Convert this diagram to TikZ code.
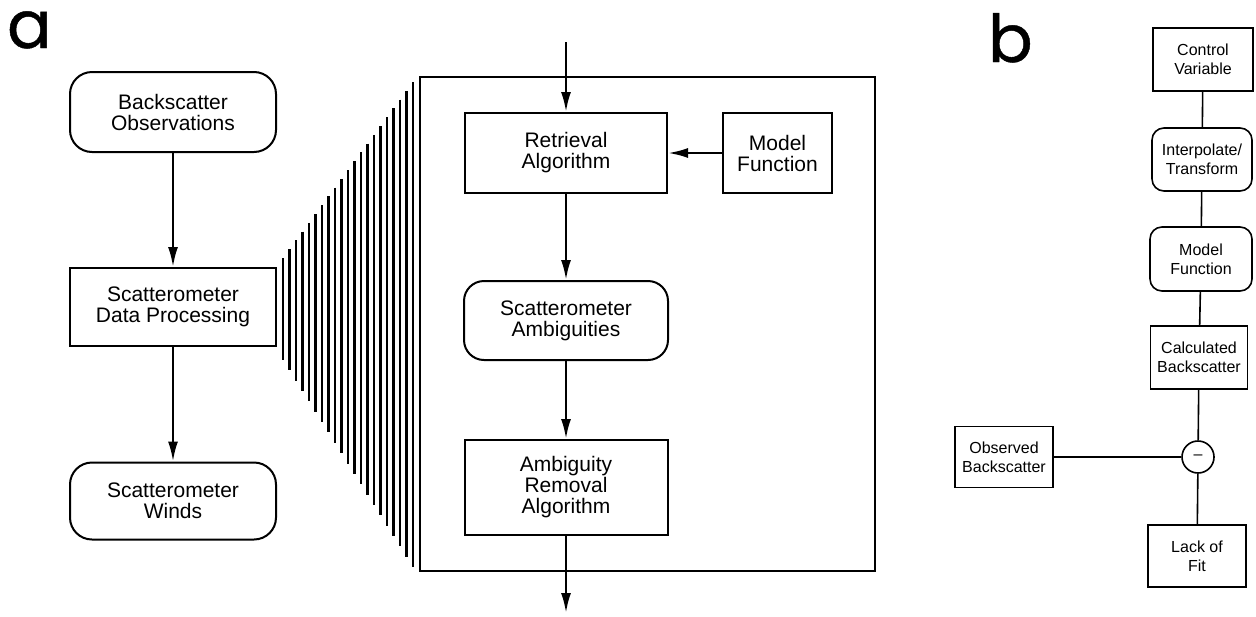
\documentclass[tikz,border=0pt]{standalone}
\usepackage{fontspec}
\setmainfont{Liberation Sans}
\newfontfamily\tagfont{Poppins}[FakeBold=0.7]
\usetikzlibrary{positioning,arrows.meta}

\tikzset{
  proc/.style={draw, line width=1pt, inner sep=0pt, align=center, font=\fontsize{10.5}{10.5}\selectfont},
  data/.style={proc, rounded corners=11pt},
  flow/.style={line width=1.2pt, -{Latex[length=10pt,width=5pt]}},
  pb/.style={draw, line width=0.8pt, inner sep=0pt, align=center, minimum width=50pt, minimum height=31.5pt, font=\fontsize{8}{9.5}\selectfont},
  pbr/.style={pb, rounded corners=6pt},
  link/.style={line width=0.8pt},
}

\begin{document}
\begin{tikzpicture}[x=0.5pt, y=-0.5pt]
    \useasboundingbox (0,0) rectangle (1256,616);

    % panel a
    \node [anchor=base west, font=\tagfont\fontsize{33}{33}\selectfont] (taga) at (0,48) {a};
    \node [data, minimum width=103pt, minimum height=40pt] (obs) at (173,112) {Backscatter\\Observations};
    \node [proc, minimum width=103pt, minimum height=39pt] (sdp) at (173,307) {Scatterometer\\Data Processing};
    \node [data, minimum width=103pt, minimum height=38.5pt] (winds) at (173,501) {Scatterometer\\Winds};

    \node [draw, line width=1pt, minimum width=227.5pt, minimum height=247pt] (frame) at (647.5,324) {};
    \node [proc, minimum width=101pt, minimum height=40pt] (retr) at (566,153) {Retrieval\\Algorithm};
    \node [proc, minimum width=54.5pt, minimum height=40pt] (model) at (777.5,153) {Model\\Function};
    \node [data, rounded corners=10pt, minimum width=102pt, minimum height=39.5pt] (amb) at (566,320.5) {Scatterometer\\Ambiguities};
    \node [proc, minimum width=101.5pt, minimum height=47.5pt] (arm) at (566,487.5) {Ambiguity\\Removal\\Algorithm};
    \coordinate (in) at (566,42);
    \coordinate (out) at (566,613);

    % fan
    \foreach \i in {0,...,20}
        \draw [line width=1.2pt] ({283+6.5*\i},{258-8.8*\i}) -- ({283+6.5*\i},{360+10.35*\i});

    \path [flow]
    (obs) edge (sdp)
    (sdp) edge (winds)
    (in) edge (retr)
    (model) edge (retr)
    (retr) edge (amb)
    (amb) edge (arm)
    (arm) edge (out);

    % panel b
    \node [anchor=base west, font=\tagfont\fontsize{33}{33}\selectfont] (tagb) at (981,62) {b};
    \node [pb] (ctrl) at (1203,59.5) {Control\\Variable};
    \node [pbr] (interp) at (1202,159.5) {Interpolate/\\Transform};
    \node [pbr, minimum width=51pt, minimum height=32pt] (mfun) at (1201,259) {Model\\Function};
    \node [pb, minimum width=48.5pt] (calc) at (1199,357.5) {Calculated\\Backscatter};
    \node [draw, circle, line width=0.8pt, minimum size=16pt, inner sep=0pt, font=\fontsize{8}{8}\selectfont] (diff) at (1198,457) {--};
    \node [pb, minimum width=49pt, minimum height=30.5pt] (obsb) at (1004,457) {Observed\\Backscatter};
    \node [pb, minimum width=49pt, minimum height=31pt] (lack) at (1197,556) {Lack of\\Fit};

    \path [link]
    (ctrl) edge (interp)
    (interp) edge (mfun)
    (mfun) edge (calc)
    (calc) edge (diff)
    (obsb) edge (diff)
    (diff) edge (lack);
\end{tikzpicture}
\end{document}
